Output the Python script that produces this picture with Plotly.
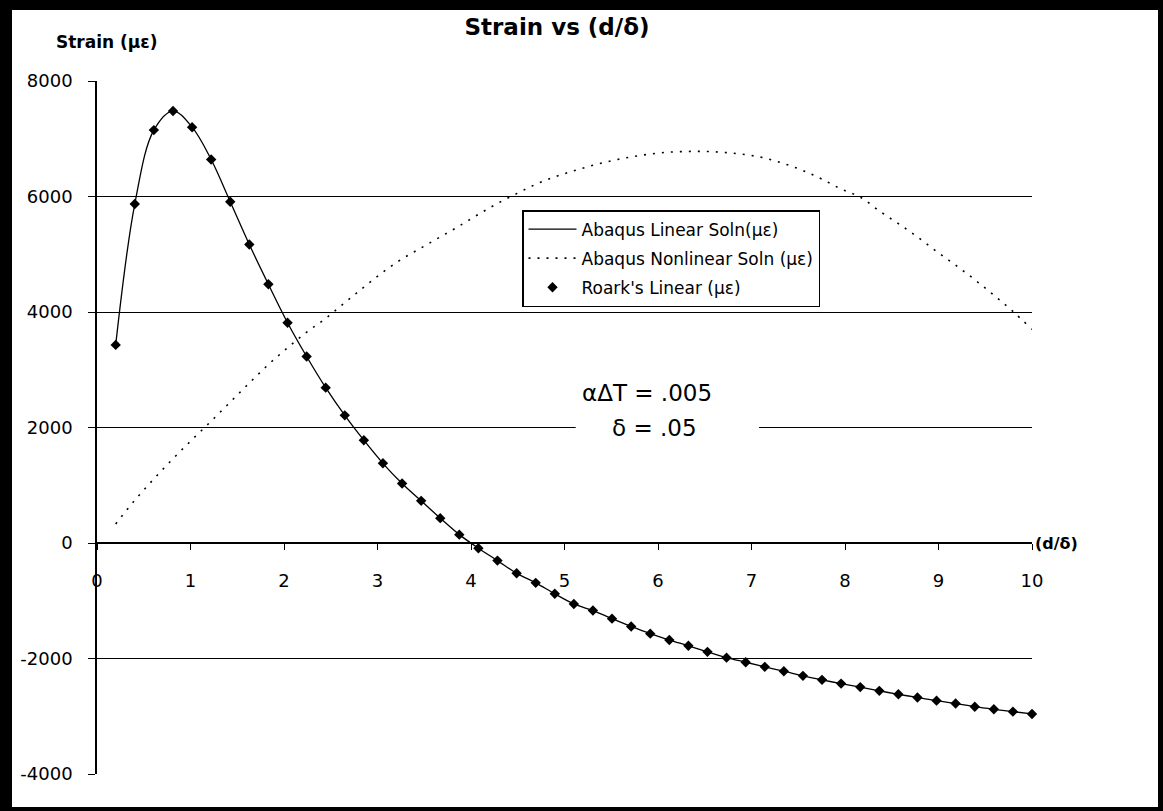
import plotly.graph_objects as go

# d/δ stations (49 evenly spaced nodes from 0.2 to 10)
d_over_delta = [0.2, 0.404, 0.608, 0.813, 1.017, 1.221, 1.425, 1.629, 1.833, 2.038,
                2.242, 2.446, 2.65, 2.854, 3.058, 3.263, 3.467, 3.671, 3.875, 4.079,
                4.283, 4.488, 4.692, 4.896, 5.1, 5.304, 5.508, 5.713, 5.917, 6.121,
                6.325, 6.529, 6.733, 6.938, 7.142, 7.346, 7.55, 7.754, 7.958, 8.163,
                8.367, 8.571, 8.775, 8.979, 9.183, 9.388, 9.592, 9.796, 10.0]

# Strain in microstrain
abaqus_linear = [3430, 5870, 7150, 7480, 7200, 6640, 5910, 5170, 4480, 3815,
                 3230, 2690, 2210, 1780, 1380, 1030, 730, 430, 145, -90,
                 -305, -525, -690, -880, -1055, -1170, -1310, -1445, -1570, -1680,
                 -1780, -1885, -1985, -2065, -2145, -2220, -2300, -2370, -2435, -2495,
                 -2560, -2620, -2675, -2730, -2780, -2835, -2880, -2920, -2960]

abaqus_nonlinear = [330, 740, 1110, 1460, 1790, 2110, 2440, 2770, 3090, 3380,
                    3650, 3890, 4160, 4430, 4690, 4920, 5110, 5300, 5490, 5690,
                    5880, 6050, 6210, 6340, 6445, 6540, 6620, 6685, 6735, 6768,
                    6780, 6780, 6760, 6725, 6665, 6570, 6450, 6300, 6130, 5990,
                    5750, 5530, 5300, 5050, 4810, 4560, 4290, 4010, 3700]

roark_linear = [3430, 5870, 7150, 7480, 7200, 6640, 5910, 5170, 4480, 3815,
                3230, 2690, 2210, 1780, 1380, 1030, 730, 430, 145, -90,
                -305, -525, -690, -880, -1055, -1170, -1310, -1445, -1570, -1680,
                -1780, -1885, -1985, -2065, -2145, -2220, -2300, -2370, -2435, -2495,
                -2560, -2620, -2675, -2730, -2780, -2835, -2880, -2920, -2960]

x_ticks = [0, 1, 2, 3, 4, 5, 6, 7, 8, 9, 10]
y_ticks = [-4000, -2000, 0, 2000, 4000, 6000, 8000]
y_tick_text = ["-4000", "-2000", "0", "2000", "4000", "6000", "8000"]

W, H = 1163, 811
M_L, M_R, M_T, M_B = 97, 131, 81, 37
PW = W - M_L - M_R
PH = H - M_T - M_B
Y_MIN, Y_MAX = -4000, 8000


def px_x(px):
    return (px - M_L) / PW


def px_y(py):
    return (H - M_B - py) / PH


FONT = "DejaVu Sans"

fig = go.Figure()
fig.add_trace(go.Scatter(
    x=d_over_delta, y=abaqus_linear, mode="lines",
    name="Abaqus Linear Soln(µε)", legendgroup="lin",
    line=dict(color="black", width=1.3, shape="spline"),
))
fig.add_trace(go.Scatter(
    x=d_over_delta, y=abaqus_nonlinear, mode="lines",
    name="Abaqus Nonlinear Soln (µε)", legendgroup="nonlin",
    line=dict(color="black", width=1.6, dash="2px,7px", shape="spline"),
))
fig.add_trace(go.Scatter(
    x=d_over_delta, y=roark_linear, mode="markers",
    name="Roark's Linear (µε)", legendgroup="roark",
    marker=dict(symbol="diamond", size=8, color="black"),
    cliponaxis=False,
))

x_axis_pos = (0 - Y_MIN) / (Y_MAX - Y_MIN)

fig.update_layout(
    width=W, height=H, autosize=False,
    margin=dict(l=M_L, r=M_R, t=M_T, b=M_B, pad=0),
    paper_bgcolor="white", plot_bgcolor="white",
    font=dict(family=FONT, color="black", size=18),
    title=dict(
        text="<b>Strain vs (d/δ)</b>",
        font=dict(family=FONT, size=23, color="black"),
        xref="container", yref="container",
        x=557 / W, y=1 - 27 / H, xanchor="center", yanchor="middle",
    ),
    xaxis=dict(
        range=[0, 10], anchor="free", position=x_axis_pos,
        tickvals=x_ticks, showgrid=False, zeroline=False,
        showline=True, linecolor="black", linewidth=1.5,
        ticks="outside", ticklen=6, tickcolor="black", tickwidth=1.3,
        tickfont=dict(size=18), ticklabelstandoff=16,
    ),
    yaxis=dict(
        range=[Y_MIN, Y_MAX], tickvals=y_ticks, ticktext=y_tick_text,
        showgrid=True, gridcolor="black", gridwidth=1.4, zeroline=False,
        showline=True, linecolor="black", linewidth=1.5,
        ticks="outside", ticklen=7, tickcolor="black", tickwidth=1.3,
        tickfont=dict(size=18), ticklabelstandoff=12,
    ),
    legend=dict(
        x=px_x(522), y=px_y(210), xanchor="left", yanchor="top",
        bgcolor="white", bordercolor="black", borderwidth=1.5,
        font=dict(family=FONT, size=17, color="black"),
        tracegroupgap=4, itemwidth=48,
    ),
    showlegend=True,
)

# Axis captions
fig.add_annotation(
    text="<b>Strain (µε)</b>", xref="paper", yref="paper",
    x=px_x(107), y=px_y(42), xanchor="center", yanchor="middle",
    showarrow=False, font=dict(family=FONT, size=17, color="black"),
)
fig.add_annotation(
    text="<b>(d/δ)</b>", xref="paper", yref="paper",
    x=px_x(1033), y=x_axis_pos, xanchor="left", yanchor="middle",
    showarrow=False, font=dict(family=FONT, size=16, color="black"),
)

# Parameter note, with a white patch that breaks the 2000 gridline
fig.add_shape(
    type="rect", xref="x", yref="y", x0=5.12, x1=7.08, y0=1800, y1=2200,
    fillcolor="white", line=dict(width=0), layer="above",
)
fig.add_annotation(
    text="αΔT = .005", xref="paper", yref="paper",
    x=px_x(647), y=px_y(393), xanchor="center", yanchor="middle",
    showarrow=False, font=dict(family=FONT, size=23, color="black"),
)
fig.add_annotation(
    text="δ = .05", xref="paper", yref="paper",
    x=px_x(654), y=px_y(428), xanchor="center", yanchor="middle",
    showarrow=False, font=dict(family=FONT, size=23, color="black"),
)

# Frame around the whole chart
for x0, x1, y0, y1 in [(0, 12, 0, H), (0, W, 0, 10), (1158, W, 0, H), (0, W, 807, H)]:
    fig.add_shape(
        type="rect", xref="paper", yref="paper",
        x0=px_x(x0), x1=px_x(x1), y0=px_y(y1), y1=px_y(y0),
        fillcolor="black", line=dict(width=0), layer="above",
    )

fig.write_html("out.html")
